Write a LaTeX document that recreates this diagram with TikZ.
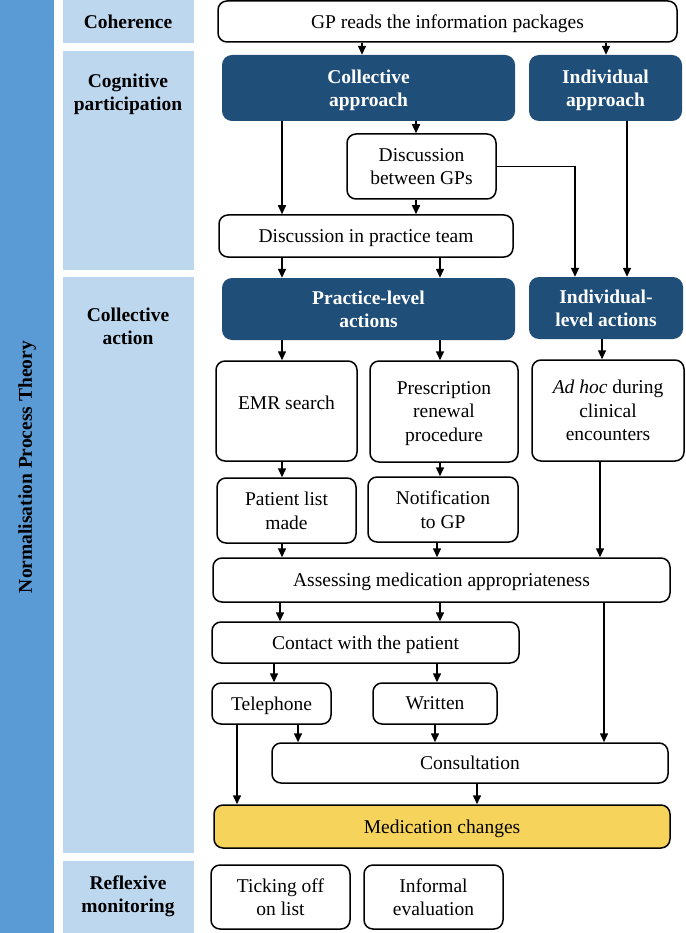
\documentclass[tikz,border=0pt]{standalone}
\usepackage{fontspec}
\setmainfont{Liberation Serif}
\usetikzlibrary{arrows.meta}
\definecolor{barblue}{HTML}{5B9BD5}
\definecolor{bandblue}{HTML}{BDD7EE}
\definecolor{navy}{HTML}{1F4E79}
\definecolor{medyellow}{HTML}{F6D35B}
\newcommand\mybox[7]{\node[#1, minimum width={#5-#3}, minimum height={#6-#4}] (#2) at ({(#3+#5)/2},{(#4+#6)/2}) {#7};}
\begin{document}
\begin{tikzpicture}[x=1pt,y=-1pt,
  every node/.style={font=\fontsize{19.5}{23.5}\selectfont},
  wbox/.style={draw=black, line width=1.5pt, rounded corners=9pt, fill=white, align=center, inner sep=0pt, text depth=0pt},
  dbox/.style={fill=navy, rounded corners=10pt, text=white, font=\fontsize{19.5}{23.5}\selectfont\bfseries, align=center, inner sep=0pt, text depth=0pt},
  ybox/.style={wbox, fill=medyellow},
  lab/.style={font=\fontsize{19.5}{23.5}\selectfont\bfseries, align=center, text depth=0pt},
  arr/.style={line width=1.5pt, -{Triangle[length=9pt,width=8pt]}}]
\useasboundingbox (0,0) rectangle (685,933);
% bands
\fill[barblue] (0,0) rectangle (54,933);
\fill[bandblue] (63,0) rectangle (194,43);
\fill[bandblue] (63,51) rectangle (194,270);
\fill[bandblue] (63,277) rectangle (194,853);
\fill[bandblue] (63,861) rectangle (194,933);
\node[lab, rotate=90] (npt) at (25,467) {Normalisation Process Theory};
\node[lab] (lcoh) at (128,22) {Coherence};
\node[lab] (lcog) at (128,92) {Cognitive\\participation};
\node[lab] (lcol) at (128,326) {Collective\\action};
\node[lab] (lref) at (128,894) {Reflexive\\monitoring};
% boxes
\mybox{wbox}{gp}{218}{1}{677}{42}{GP reads the information packages}
\mybox{dbox}{coll}{222}{55}{515}{121}{Collective\\approach}
\mybox{dbox}{ind}{529}{55}{682}{121}{Individual\\approach}
\mybox{wbox}{dgp}{347}{134}{496}{199}{Discussion\\between GPs}
\mybox{wbox}{dpt}{219}{215}{513}{257}{Discussion in practice team}
\mybox{dbox}{pla}{222}{278}{515}{340}{Practice-level\\actions}
\mybox{dbox}{ila}{529}{277}{683}{339}{Individual-\\level actions}
\mybox{wbox}{emr}{216}{361}{357}{461}{EMR search\\[-7.5pt]}
\mybox{wbox}{presc}{370}{361}{518}{462}{Prescription\\renewal\\procedure}
\mybox{wbox}{adhoc}{532}{360}{684}{461}{\textit{Ad hoc} during\\clinical\\encounters}
\mybox{wbox}{pl}{217}{478}{356}{543}{Patient list\\made}
\mybox{wbox}{notif}{368}{477}{518}{542}{Notification\\to GP}
\mybox{wbox}{assess}{213}{558}{670}{602}{Assessing medication appropriateness}
\mybox{wbox}{contact}{212}{622}{519}{663}{Contact with the patient}
\mybox{wbox}{tel}{212}{683}{331}{724}{Telephone}
\mybox{wbox}{wri}{373}{683}{497}{724}{Written}
\mybox{wbox}{cons}{272}{743}{668}{783}{Consultation}
\mybox{ybox}{med}{214}{805}{670}{848}{Medication changes}
\mybox{wbox}{tick}{211}{865}{350}{929}{Ticking off\\on list}
\mybox{wbox}{inf}{364}{865}{503}{929}{Informal\\evaluation}
% column coordinates
\coordinate (x237) at (237,0);
\coordinate (x274) at (274,0);
\coordinate (x280) at (280,0);
\coordinate (x282) at (282,0);
\coordinate (x298) at (298,0);
\coordinate (x362) at (362,0);
\coordinate (x416) at (416,0);
\coordinate (x435) at (435,0);
\coordinate (x437) at (437,0);
\coordinate (x440) at (440,0);
\coordinate (x477) at (477,0);
\coordinate (x575) at (575,0);
\coordinate (x600) at (600,0);
\coordinate (x602) at (602,0);
\coordinate (x604) at (604,0);
\coordinate (x606) at (606,0);
\coordinate (x627) at (627,0);
% arrows
\draw[arr] (gp.south -| x362) -- (coll.north -| x362);
\draw[arr] (gp.south -| x606) -- (ind.north -| x606);
\draw[arr] (coll.south -| x416) -- (dgp.north -| x416);
\draw[arr] (coll.south -| x282) -- (dpt.north -| x282);
\draw[arr] (dgp.south -| x416) -- (dpt.north -| x416);
\draw[arr] (dgp.east) -| (ila.north -| x575);
\draw[arr] (ind.south -| x627) -- (ila.north -| x627);
\draw[arr] (dpt.south -| x282) -- (pla.north -| x282);
\draw[arr] (dpt.south -| x440) -- (pla.north -| x440);
\draw[arr] (pla.south -| x282) -- (emr.north -| x282);
\draw[arr] (pla.south -| x440) -- (presc.north -| x440);
\draw[arr] (ila.south -| x602) -- (adhoc.north -| x602);
\draw[arr] (emr.south -| x282) -- (pl.north -| x282);
\draw[arr] (presc.south -| x440) -- (notif.north -| x440);
\draw[arr] (pl.south -| x282) -- (assess.north -| x282);
\draw[arr] (notif.south -| x437) -- (assess.north -| x437);
\draw[arr] (adhoc.south -| x600) -- (assess.north -| x600);
\draw[arr] (assess.south -| x280) -- (contact.north -| x280);
\draw[arr] (assess.south -| x440) -- (contact.north -| x440);
\draw[arr] (contact.south -| x274) -- (tel.north -| x274);
\draw[arr] (contact.south -| x437) -- (wri.north -| x437);
\draw[arr] (tel.south -| x298) -- (cons.north -| x298);
\draw[arr] (wri.south -| x435) -- (cons.north -| x435);
\draw[arr] (assess.south -| x604) -- (cons.north -| x604);
\draw[arr] (tel.south -| x237) -- (med.north -| x237);
\draw[arr] (cons.south -| x477) -- (med.north -| x477);
\end{tikzpicture}
\end{document}
